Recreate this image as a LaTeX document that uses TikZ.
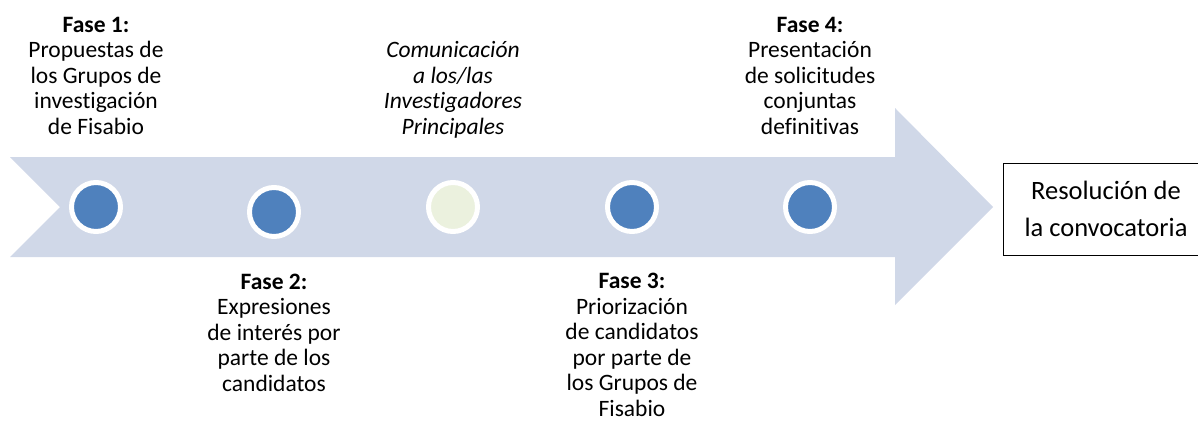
\documentclass[tikz,border=0pt]{standalone}
\usepackage{fontspec}
\setmainfont[Ligatures=NoCommon]{Carlito}
\definecolor{arrowfill}{HTML}{D0D8E8}
\definecolor{dotblue}{HTML}{4F81BD}
\definecolor{dotlight}{HTML}{EBF1DE}
\begin{document}
\begin{tikzpicture}[x=1pt, y=-1pt, dot/.style={circle, draw=white,
      line width=5pt, fill=dotblue, minimum size=49pt, inner sep=0pt},
    phase/.style={align=center, inner sep=0pt, anchor=base,
      font=\fontsize{23.5}{25.5}\selectfont}]
  \useasboundingbox (0,0) rectangle (1198,423);
  \fill[arrowfill] (10,157) -- (895,157) -- (895,108) -- (993,207) --
  (895,305) -- (895,257) -- (10,257) -- (60,207) -- cycle;
  \begin{scope}[every node/.style={dot}]
    \node (d1) at (96,207) {}; \node (d2) at (274,212) {}; \node
    [fill=dotlight] (d3) at (453,207) {}; \node (d4) at (632,207) {};
    \node (d5) at (810,207) {};
  \end{scope}
  \begin{scope}[every node/.style={phase}]
    \node (f1) at (96,134) {\textbf{Fase 1:}\\Propuestas de\\los Grupos
      de\\investigación\\de Fisabio}; \node (com) at (453,134)
    {\itshape Comunicación\\\itshape a los/las\\\itshape
      Investigadores\\\itshape Principales}; \node (f4) at (810,134)
    {\textbf{Fase 4:}\\Presentación\\de solicitudes\\conjuntas\\definitivas};
    \node (f2) at (274,391) {\textbf{Fase 2:}\\Expresiones\\de interés
      por\\parte de los\\candidatos}; \node (f3) at (632,416)
    {\textbf{Fase 3:}\\Priorización\\de candidatos\\por parte de\\los
      Grupos de\\Fisabio};
  \end{scope}
  \node [draw, line width=1pt, minimum width=206pt, minimum
  height=92pt, align=center, font=\fontsize{26.5}{36.5}\selectfont]
  (res) at (1106,209) {Resolución de\\la convocatoria};
\end{tikzpicture}
\end{document}
